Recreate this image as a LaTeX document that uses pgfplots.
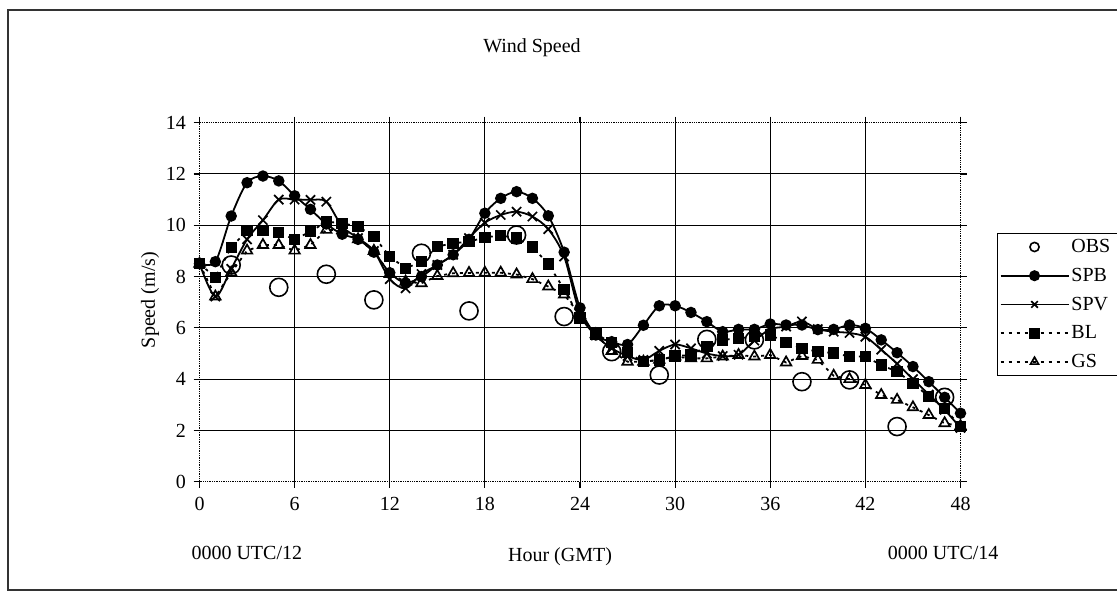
\documentclass[border=0pt]{standalone}
\usepackage{pgfplots}
\pgfplotsset{compat=1.18}
\usepackage{pgfplotstable}
\usepackage{fontspec}
\setmainfont{Liberation Serif}

% hourly wind speed (m/s)
\pgfplotstableread{
h v
2 8.45
5 7.58
8 8.09
11 7.09
14 8.91
17 6.66
20 9.62
23 6.44
26 5.07
29 4.16
32 5.55
35 5.53
38 3.90
41 3.97
44 2.15
47 3.29
}\obs
\pgfplotstableread{
h v
0 8.50
1 8.58
2 10.36
3 11.66
4 11.92
5 11.73
6 11.15
7 10.62
8 10.05
9 9.65
10 9.45
11 8.95
12 8.15
13 7.75
14 8.00
15 8.45
16 8.85
17 9.45
18 10.47
19 11.05
20 11.31
21 11.05
22 10.37
23 8.95
24 6.78
25 5.72
26 5.46
27 5.35
28 6.10
29 6.86
30 6.86
31 6.60
32 6.24
33 5.85
34 5.94
35 5.94
36 6.15
37 6.11
38 6.11
39 5.93
40 5.94
41 6.11
42 5.98
43 5.53
44 5.03
45 4.49
46 3.90
47 3.29
48 2.67
}\spb
\pgfplotstableread{
h v
0 8.50
1 7.22
2 8.30
3 9.45
4 10.20
5 11.00
6 11.00
7 10.99
8 10.92
9 9.95
10 9.50
11 9.00
12 7.90
13 7.54
14 8.10
15 8.45
16 8.85
17 9.50
18 10.10
19 10.40
20 10.53
21 10.34
22 9.85
23 8.78
24 6.55
25 5.70
26 5.20
27 4.90
28 4.75
29 5.10
30 5.35
31 5.20
32 5.00
33 4.90
34 4.95
35 5.50
36 5.95
37 6.05
38 6.25
39 5.95
40 5.85
41 5.80
42 5.65
43 5.15
44 4.60
45 4.00
46 3.40
47 2.80
48 2.10
}\spv
\pgfplotstableread{
h v
0 8.50
1 7.97
2 9.14
3 9.79
4 9.79
5 9.71
6 9.45
7 9.75
8 10.14
9 10.08
10 9.95
11 9.56
12 8.78
13 8.32
14 8.58
15 9.17
16 9.30
17 9.36
18 9.53
19 9.60
20 9.50
21 9.15
22 8.49
23 7.50
24 6.38
25 5.76
26 5.42
27 5.03
28 4.68
29 4.75
30 4.90
31 4.94
32 5.27
33 5.53
34 5.59
35 5.66
36 5.72
37 5.43
38 5.20
39 5.07
40 5.02
41 4.88
42 4.88
43 4.55
44 4.29
45 3.84
46 3.32
47 2.86
48 2.15
}\bl
\pgfplotstableread{
h v
0 8.50
1 7.22
2 8.15
3 9.01
4 9.23
5 9.23
6 9.01
7 9.23
8 9.82
9 9.80
10 9.45
11 9.00
12 8.10
13 7.80
14 7.74
15 8.02
16 8.13
17 8.14
18 8.15
19 8.15
20 8.08
21 7.90
22 7.61
23 7.30
24 6.50
25 5.75
26 5.10
27 4.68
28 4.68
29 4.75
30 4.88
31 4.81
32 4.81
33 4.88
34 4.94
35 4.88
36 4.94
37 4.65
38 4.90
39 4.75
40 4.13
41 4.00
42 3.77
43 3.38
44 3.19
45 2.90
46 2.60
47 2.28
48 2.17
}\gs

\newcommand\chartfont{\fontsize{20}{24}\selectfont}
\newcommand\entry[1]{\makebox[60pt][l]{#1}}

\begin{document}
\begin{tikzpicture}[x=1pt,y=1pt]
\useasboundingbox (0,0) rectangle (1117,596);
% chart area frame
\draw[line width=1.5pt, black!80] (1130,586) -- (8,586) -- (8,6) -- (1130,6);

\node[font=\chartfont] at (532,548) {Wind Speed};
\node[font=\chartfont, rotate=90] at (150,296) {Speed (m/s)};
\node[font=\chartfont, anchor=west] at (188,43) {0000 UTC/12};
\node[font=\chartfont] at (560,39) {Hour (GMT)};
\node[font=\chartfont, anchor=east] at (1002,43) {0000 UTC/14};

\begin{axis}[
  at={(199.5pt,114.3pt)}, anchor=south west,
  scale only axis, width=761pt, height=359pt,
  xmin=0, xmax=48, ymin=0, ymax=14,
  xtick={0,6,...,48}, ytick={0,2,...,14},
  tick align=outside, major tick length=6pt,
  tick style={black, line width=1.1pt},
  axis line style={black, line width=1.3pt, densely dotted},
  extra x ticks={6,12,...,42}, extra y ticks={2,4,...,12},
  extra x tick style={grid=major, xticklabel={}, major tick length=0pt},
  extra y tick style={grid=major, yticklabel={}, major tick length=0pt},
  grid style={black, line width=1pt, solid},
  tick label style={font=\chartfont},
  /pgf/number format/assume math mode=true,
  xticklabel style={yshift=-6pt},
  yticklabel style={xshift=-4pt},
  clip=false,
  legend style={at={(1.048,0.6927)}, anchor=north west, draw=black,
    line width=1.2pt, font=\chartfont, inner xsep=2pt, inner ysep=4pt,
    row sep=10pt, cells={anchor=west}},
  legend image code/.code={
    \draw[mark repeat=2, mark phase=2, #1]
      plot coordinates {(0pt,0pt) (34pt,0pt) (68pt,0pt)};},
  legend image post style={mark size=4.6pt},
]
\addplot[only marks, mark=o, mark size=9pt, line width=1.6pt, black]
  table[x=h, y=v] {\obs};
\addlegendentry{\entry{OBS}}
\addplot[smooth, black, line width=1.8pt, mark=*, mark size=4.8pt]
  table[x=h, y=v] {\spb};
\addlegendentry{\entry{SPB}}
\addplot[smooth, black, line width=1.8pt, mark=x, mark size=6.5pt,
  mark options={line width=1.7pt}]
  table[x=h, y=v] {\spv};
\addlegendentry{\entry{SPV}}
\addplot[black, line width=1.8pt, dash pattern=on 3pt off 5pt,
  mark=square*, mark size=4.8pt, mark options={solid}]
  table[x=h, y=v] {\bl};
\addlegendentry{\entry{BL}}
\addplot[black, line width=1.8pt, dash pattern=on 3pt off 5pt,
  mark=triangle, mark size=6pt, mark options={solid, line width=1.7pt}]
  table[x=h, y=v] {\gs};
\addlegendentry{\entry{GS}}
\end{axis}
\end{tikzpicture}
\end{document}
